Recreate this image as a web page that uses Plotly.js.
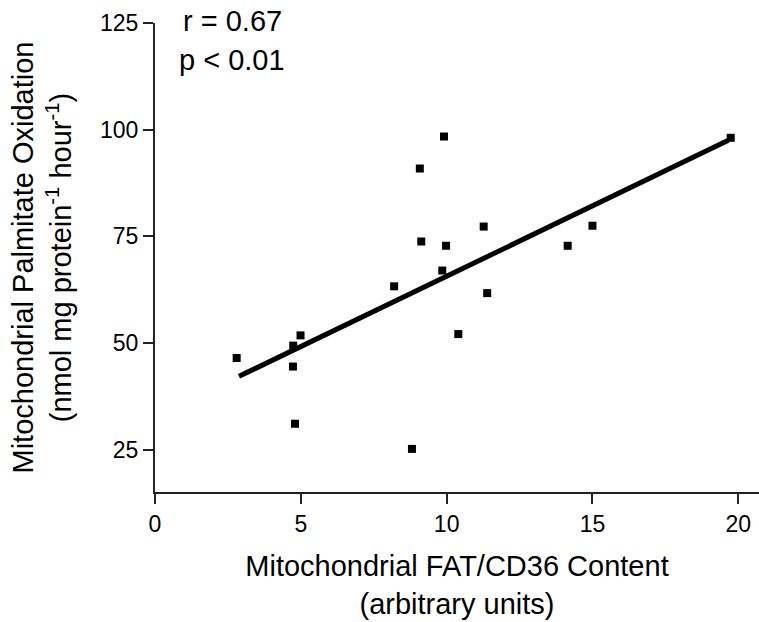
<!DOCTYPE html>
<html>
<head>
<meta charset="utf-8">
<script src="https://cdn.plot.ly/plotly-3.0.1.min.js"></script>
<style>html,body{margin:0;padding:0;background:#fff;}#chart{width:759px;height:622px;}</style>
</head>
<body>
<div id="chart"></div>
<script>
// Mitochondrial FAT/CD36 content (arbitrary units)
const fatCD36 = [2.80, 4.74, 4.99, 4.73, 4.80, 8.20, 8.81, 9.08, 9.91, 9.13, 9.98, 9.85, 11.27, 11.39, 10.40, 14.15, 15.00, 19.74];
// Mitochondrial palmitate oxidation (nmol mg protein^-1 hour^-1)
const palmitateOx = [46.5, 49.4, 51.8, 44.5, 31.1, 63.3, 25.2, 90.9, 98.4, 73.8, 72.8, 67.0, 77.3, 61.7, 52.1, 72.8, 77.5, 98.1];
// Regression line end points
const fitX = [2.88, 19.66];
const fitY = [42.2, 97.5];
const xTicks = [0, 5, 10, 15, 20];
const yTicks = [25, 50, 75, 100, 125];
const statLabels = ["r = 0.67", "p < 0.01"];

const FONT = "Liberation Sans, Arial, Helvetica, sans-serif";

const traces = [
  {
    x: fitX, y: fitY, type: "scatter", mode: "lines",
    line: {color: "#000", width: 5},
    hoverinfo: "skip", showlegend: false
  },
  {
    x: fatCD36, y: palmitateOx, type: "scatter", mode: "markers",
    marker: {symbol: "square", size: 8, color: "#000"},
    showlegend: false, cliponaxis: false
  }
];

const layout = {
  width: 759, height: 622,
  margin: {l: 155, r: 0, t: 23, b: 130, pad: 0},
  paper_bgcolor: "#fff", plot_bgcolor: "#fff",
  font: {family: FONT, color: "#000", size: 23},
  showlegend: false,
  xaxis: {
    range: [0, 20.71], tickvals: xTicks, ticktext: xTicks.map(String),
    showgrid: false, zeroline: false,
    showline: true, linecolor: "#222", linewidth: 2,
    ticks: "outside", ticklen: 10, tickwidth: 2, tickcolor: "#222",
    tickfont: {family: FONT, size: 23, color: "#000"},
    title: {text: "Mitochondrial FAT/CD36 Content<br>(arbitrary units)", font: {family: FONT, size: 29, color: "#000"}, standoff: 20},
    automargin: false
  },
  yaxis: {
    range: [15.1, 125], tickvals: yTicks, ticktext: yTicks.map(String),
    showgrid: false, zeroline: false,
    showline: true, linecolor: "#222", linewidth: 2,
    ticks: "outside", ticklen: 10, tickwidth: 2, tickcolor: "#222",
    tickfont: {family: FONT, size: 23, color: "#000"},
    title: {text: "Mitochondrial Palmitate Oxidation<br>(nmol mg protein<sup>-1</sup> hour<sup>-1</sup>)", font: {family: FONT, size: 29, color: "#000"}, standoff: 20},
    automargin: false
  },
  annotations: [
    {xref: "paper", yref: "paper", x: 0.128, y: 1.0, xanchor: "center", yanchor: "middle", yshift: 2,
     text: statLabels[0], showarrow: false, font: {family: FONT, size: 29, color: "#000"}},
    {xref: "paper", yref: "paper", x: 0.128, y: 1.0, xanchor: "center", yanchor: "middle", yshift: -37,
     text: statLabels[1], showarrow: false, font: {family: FONT, size: 29, color: "#000"}}
  ]
};

Plotly.newPlot("chart", traces, layout, {displayModeBar: false, staticPlot: true});
</script>
</body>
</html>
